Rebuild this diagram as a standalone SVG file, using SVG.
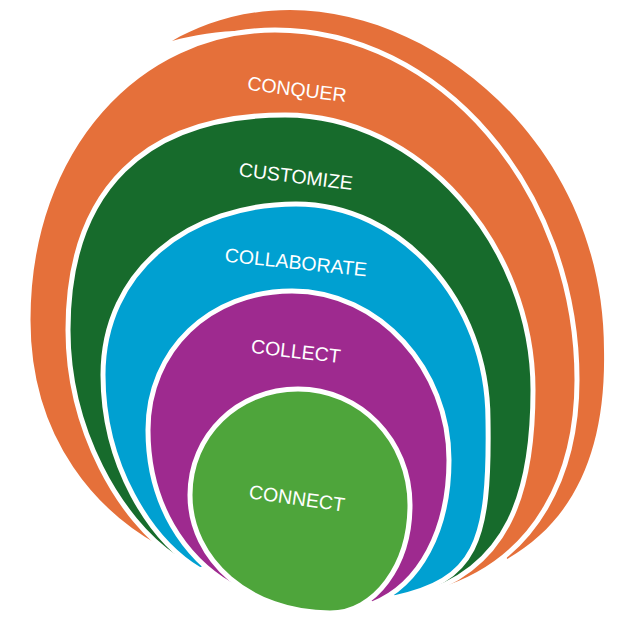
<svg xmlns="http://www.w3.org/2000/svg" width="628" height="628" viewBox="0 0 628 628">
<style>
.layer{stroke:#fff;stroke-width:5;stroke-linejoin:round}
.lbl{font-family:"Liberation Sans",Arial,sans-serif;font-size:19.5px;fill:#fff;text-anchor:middle}
</style>
<rect width="628" height="628" fill="#fff"/>
<g id="conquer">
<path fill="#E5703A" d="M172,41 C200,25 240,10 290,10 C440,10 604,150 604,350 C606,450 575,520 507,559 L480,400 L300,80 L290,36 C250,26 205,32 172,41 Z"/>
<path class="layer" fill="#E5703A" d="M157,547 C100,515 28,445 28,320 C28,148 139,30 275,30 C440,30 577,189 577,380 C577,470 540,560 438,591 Q300,470 157,547 Z"/>
<text class="lbl" x="297" y="96" transform="rotate(7 297 89)">CONQUER</text>
</g>
<g id="customize">
<path class="layer" fill="#176B2C" d="M175,557 C120,520 68,430 68,330 C68,190 145,115 285,115 C420,115 533,245 533,390 C533,490 510,570 414,596 Q300,490 175,557 Z"/>
<text class="lbl" x="296" y="183" transform="rotate(7 296 176)">CUSTOMIZE</text>
</g>
<g id="collaborate">
<path class="layer" fill="#00A0D1" d="M200,570 C150,540 103,465 103,375 C103,270 190,204 296,204 C400,204 488,300 488,420 C490,545 475,580 394,598 Q300,520 200,570 Z"/>
<text class="lbl" x="296" y="269" transform="rotate(6 296 262)">COLLABORATE</text>
</g>
<g id="collect">
<path class="layer" fill="#9E2A8F" d="M231,585 C185,558 148,505 148,430 C148,350 210,291 292,291 C380,291 449,370 449,460 C449,530 420,585 372,604 Q300,555 231,585 Z"/>
<text class="lbl" x="296" y="358" transform="rotate(6.5 296 351)">COLLECT</text>
</g>
<g id="connect">
<path class="layer" fill="#4EA53B" d="M298,389 C360,389 410,440 410,505 C410,565 375,613 330,613 C250,613 190,560 190,495 C190,435 238,389 298,389 Z"/>
<text class="lbl" x="297" y="505" transform="rotate(8 297 498)">CONNECT</text>
</g>
<g id="connectors"/>
</svg>
